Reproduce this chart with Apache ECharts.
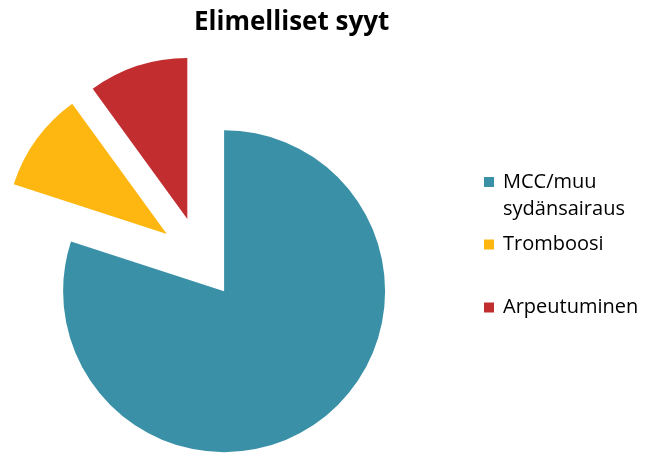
<!DOCTYPE html>
<html>
<head>
<meta charset="utf-8">
<script src="https://cdn.jsdelivr.net/npm/echarts@6/dist/echarts.min.js"></script>
<style>
html,body{margin:0;padding:0;background:#fff;}
#chart{width:647px;height:453px;}
</style>
</head>
<body>
<div id="chart"></div>
<script>
const titleText = 'Elimelliset syyt';
const categories = ['MCC/muu\nsydänsairaus', 'Tromboosi', 'Arpeutuminen'];
const values = [80, 10, 10];
const colors = ['#3A91A7', '#FEB711', '#C22D30'];

const FONT = 'Open Sans';
const LH = 27;
const chart = echarts.init(document.getElementById('chart'), null, {renderer: 'canvas'});
const legendTops = [182 - 1.5 * LH, 244.5 - LH / 2, 307.5 - LH / 2];
const legends = categories.map((c, i) => ({
  orient: 'vertical',
  left: 484,
  top: legendTops[i],
  padding: 0,
  itemWidth: 10,
  itemHeight: 10,
  icon: 'rect',
  selectedMode: false,
  data: [c],
  formatter: i === 0 ? (n => '\n' + n) : (n => n),
  textStyle: {fontFamily: FONT, fontSize: 20, color: '#000', lineHeight: LH, padding: [0, 0, 0, 4]}
}));

chart.setOption({
  animation: false,
  color: colors,
  title: {
    text: titleText,
    left: 194,
    top: 10,
    padding: 0,
    textStyle: {fontFamily: FONT, fontWeight: 'bold', fontSize: 26, color: '#000'}
  },
  legend: legends,
  series: [{
    type: 'pie',
    center: [200, 258],
    radius: 161,
    startAngle: 90,
    clockwise: true,
    selectedMode: 'multiple',
    selectedOffset: 41,
    label: {show: false},
    labelLine: {show: false},
    emphasis: {disabled: true},
    itemStyle: {borderWidth: 0},
    data: categories.map((c, i) => ({name: c, value: values[i], selected: true}))
  }]
});
</script>
</body>
</html>
